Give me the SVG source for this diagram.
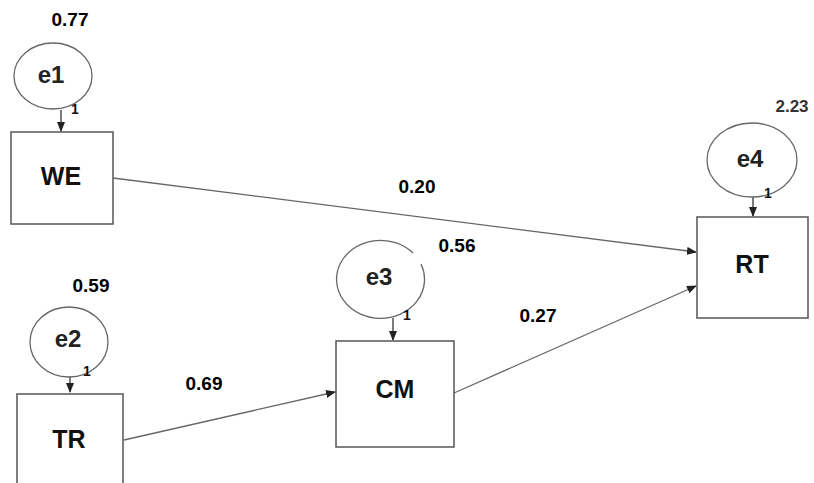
<svg xmlns="http://www.w3.org/2000/svg" width="814" height="483" viewBox="0 0 814 483">
<style>
.box{fill:#fff;stroke:#555;stroke-width:1.5}
.ell{fill:#fff;stroke:#666;stroke-width:1.3}
.nt{font-family:"Liberation Sans",Arial,sans-serif;font-weight:bold;font-size:25px;fill:#111;text-anchor:middle}
.et{font-family:"Liberation Sans",Arial,sans-serif;font-weight:bold;font-size:24px;fill:#222;text-anchor:middle}
.lb{font-family:"Liberation Sans",Arial,sans-serif;font-weight:bold;font-size:19px;fill:#000;text-anchor:middle}
.one{font-family:"Liberation Sans",Arial,sans-serif;font-weight:bold;font-size:14px;fill:#111;text-anchor:middle}
.ln{stroke:#666;stroke-width:1.3;fill:none}
.sh{stroke:#333;stroke-width:1.3;fill:none}
</style>
<defs>
<marker id="ah" markerWidth="10" markerHeight="8" refX="9" refY="4" orient="auto" markerUnits="userSpaceOnUse">
<path d="M0,0 L10,4 L0,8 z" fill="#222"/>
</marker>
</defs>
<rect width="814" height="483" fill="#fff"/>
<g id="connectors">
<line class="ln" x1="113" y1="178" x2="696" y2="252" marker-end="url(#ah)"/>
<line class="ln" x1="124" y1="440" x2="335" y2="392" marker-end="url(#ah)"/>
<line class="ln" x1="454" y1="393" x2="696" y2="286" marker-end="url(#ah)"/>
<line class="sh" x1="61" y1="110" x2="61" y2="131" marker-end="url(#ah)"/>
<line class="sh" x1="70" y1="376" x2="70" y2="392" marker-end="url(#ah)"/>
<line class="sh" x1="393" y1="318" x2="393" y2="340" marker-end="url(#ah)"/>
<line class="sh" x1="753" y1="197" x2="753" y2="216" marker-end="url(#ah)"/>
</g>
<g id="e1">
<ellipse class="ell" cx="53" cy="76" rx="39" ry="33"/>
<text class="et" x="51" y="83">e1</text>
<text class="one" x="75" y="114">1</text>
<text class="lb" x="70" y="26">0.77</text>
</g>
<g id="WE">
<rect class="box" x="11" y="132" width="102" height="92"/>
<text class="nt" x="61" y="185">WE</text>
</g>
<g id="e2">
<ellipse class="ell" cx="69" cy="342" rx="39" ry="35"/>
<text class="et" x="68" y="347">e2</text>
<text class="one" x="87" y="376">1</text>
<text class="lb" x="91" y="292">0.59</text>
</g>
<g id="TR">
<rect class="box" x="17" y="394" width="106" height="100"/>
<text class="nt" x="69" y="448">TR</text>
</g>
<g id="e3">
<path class="ell" d="M421,264 A44,39 0 1 1 413,253"/>
<text class="et" x="379" y="285">e3</text>
<text class="one" x="407" y="320">1</text>
<text class="lb" x="457" y="252">0.56</text>
</g>
<g id="CM">
<rect class="box" x="336" y="341" width="118" height="106"/>
<text class="nt" x="395" y="398">CM</text>
</g>
<g id="e4">
<ellipse class="ell" cx="752" cy="160" rx="45" ry="37"/>
<text class="et" x="750" y="167">e4</text>
<text class="one" x="768" y="198">1</text>
<text class="lb" x="792" y="112" style="font-size:17px;fill:#333">2.23</text>
</g>
<g id="RT">
<rect class="box" x="697" y="217" width="111" height="101"/>
<text class="nt" x="752" y="273">RT</text>
</g>
<g id="labels">
<text class="lb" x="417" y="193">0.20</text>
<text class="lb" x="538" y="322">0.27</text>
<text class="lb" x="204" y="390">0.69</text>
</g>
</svg>
